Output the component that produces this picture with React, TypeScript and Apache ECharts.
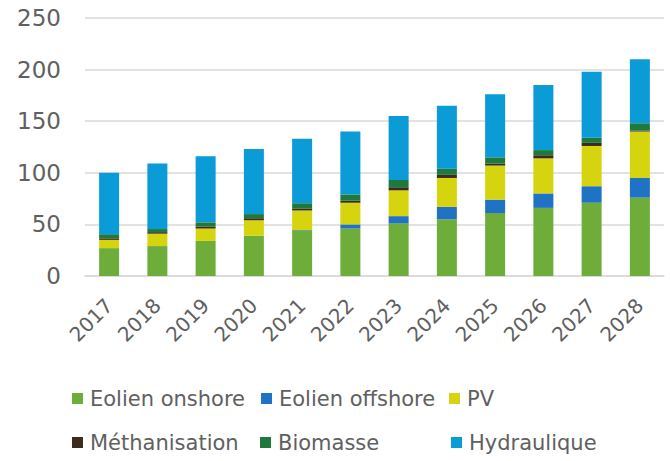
import React, { useEffect, useRef } from "react";
import * as echarts from "echarts";

const years = ["2017", "2018", "2019", "2020", "2021", "2022", "2023", "2024", "2025", "2026", "2027", "2028"];
const eolienOnshore = [27, 29, 34, 39, 44, 46, 51, 55, 61, 66, 71, 76];
const eolienOffshore = [0, 0, 0, 0, 0.5, 4, 7, 12, 13, 14, 16, 19];
const pv = [8, 12, 12, 15, 19, 21, 25, 28, 33, 34, 39, 45];
const methanisation = [1.5, 1.5, 2, 2, 2, 2, 3, 3, 2, 3, 3, 1];
const biomasse = [4, 3, 4, 4, 5, 6, 7, 6, 6, 5, 5, 7];
const hydraulique = [59.5, 63.5, 64, 63, 62.5, 61, 62, 61, 61, 63, 64, 62];

const seriesNames = ["Eolien onshore", "Eolien offshore", "PV", "Méthanisation", "Biomasse", "Hydraulique"];
const seriesData = [eolienOnshore, eolienOffshore, pv, methanisation, biomasse, hydraulique];
const colors = ["#6fad3a", "#1f72c4", "#d6d40e", "#3d2b1c", "#1d7a3c", "#0b9bd7"];

const legendPos = [
  { left: 72, top: 388 },
  { left: 261, top: 388 },
  { left: 449, top: 388 },
  { left: 72, top: 432 },
  { left: 260, top: 432 },
  { left: 451, top: 432 },
];

const FONT = "DejaVu Sans";
const TEXT = "#606060";

export default function App() {
  const ref = useRef<HTMLDivElement>(null);
  useEffect(() => {
    if (!ref.current) return;
    const chart = echarts.init(ref.current, undefined, { renderer: "svg" });
    chart.setOption({
      animation: false,
      backgroundColor: "#ffffff",
      color: colors,
      grid: { left: 85, right: 6, top: 18, bottom: 185, containLabel: false },
      legend: seriesNames.map((n, i) => ({
        data: [n],
        left: legendPos[i].left,
        top: legendPos[i].top,
        padding: 0,
        icon: "rect",
        itemWidth: 11,
        itemHeight: 11,
        itemGap: 0,
        textStyle: { fontFamily: FONT, fontSize: 21, color: TEXT, padding: [0, 0, 0, 2] },
      })),
      xAxis: {
        type: "category",
        data: years,
        axisLine: { show: true, lineStyle: { color: "#d9d9d9", width: 1.5 } },
        axisTick: { show: false },
        axisLabel: {
          rotate: 45,
          margin: 26,
          fontFamily: FONT,
          fontSize: 20,
          color: TEXT,
        },
      },
      yAxis: {
        type: "value",
        min: 0,
        max: 250,
        interval: 50,
        axisLine: { show: false },
        axisTick: { show: false },
        splitLine: { lineStyle: { color: "#d9d9d9", width: 1.5 } },
        axisLabel: { margin: 24, fontFamily: FONT, fontSize: 23, color: TEXT },
      },
      series: seriesNames.map((n, i) => ({
        name: n,
        type: "bar",
        stack: "total",
        barWidth: 20,
        data: seriesData[i],
        itemStyle: { color: colors[i] },
      })),
    });
    return () => chart.dispose();
  }, []);
  return <div ref={ref} style={{ width: 670, height: 461, position: "absolute", left: 0, top: 0 }} />;
}
